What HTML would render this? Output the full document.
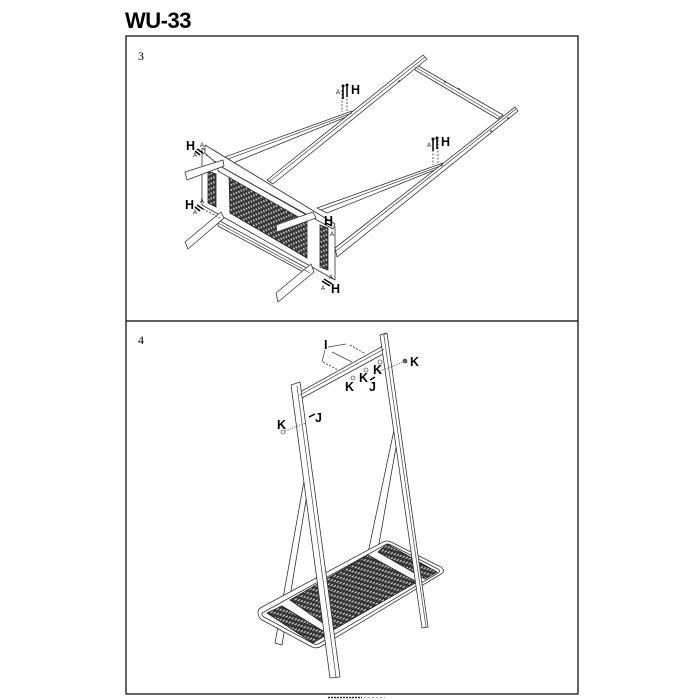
<!DOCTYPE html>
<html><head><meta charset="utf-8"><style>
html,body{margin:0;padding:0;background:#fff}
svg{display:block}
text{font-family:"Liberation Sans",sans-serif;font-weight:bold;fill:#000}
.n{font-family:"Liberation Serif",serif;font-weight:normal;font-size:12px}
.L{font-size:12.5px}
.a{font-size:6px;font-weight:normal}
.s polygon,.s path{fill:#fff;stroke:#333;stroke-width:.8;stroke-linejoin:round}
.l{stroke:#444;stroke-width:.7;fill:none}
.d{stroke:#333;stroke-width:.8;stroke-dasharray:2 1.5;fill:none}
.t{stroke:#000;stroke-width:1.5;fill:none}
.m{fill:url(#mesh);stroke:#222;stroke-width:.8}
.m2{fill:url(#mesh2);stroke:#222;stroke-width:.8}
</style></head><body>
<svg width="700" height="700" viewBox="0 0 700 700" xmlns="http://www.w3.org/2000/svg">
<defs>
<pattern id="mesh" width="5" height="5" patternUnits="userSpaceOnUse" patternTransform="skewY(30)">
<rect width="5" height="5" fill="#363636"/><rect x=".5" y=".5" width="1.7" height="1.7" fill="#ccc"/><rect x="3" y="3" width="1.7" height="1.7" fill="#ccc"/>
</pattern>
<pattern id="mesh2" width="6" height="5" patternUnits="userSpaceOnUse" patternTransform="skewY(-28)">
<rect width="6" height="5" fill="#333"/><rect x=".5" y=".8" width="2.4" height="1.4" fill="#d0d0d0"/><rect x="3.5" y="3.3" width="2.4" height="1.4" fill="#d0d0d0"/>
</pattern>
</defs>
<rect width="700" height="700" fill="#fff"/>
<text x="125" y="28" font-size="22" style="letter-spacing:-.5px">WU-33</text>
<rect x="126" y="36" width="452" height="658" fill="none" stroke="#000" stroke-width="1.2"/>
<line x1="126" y1="321" x2="578" y2="321" stroke="#000" stroke-width="1.2"/>
<text class="n" x="138" y="60">3</text>
<text class="n" x="138" y="344">4</text>

<!-- PANEL 3 -->
<g class="s">
<polygon points="225,157 352,111 356,113 233,163"/>
<polygon points="317,208 443,163 447,165 327,213"/>
<polygon points="415,64 503,115 498,119 415,70"/>
<polygon points="267,180 423,55 427,59 273,184"/>
<polygon points="335,248 515,107 518,111 337,257"/>
<polygon points="202,148 335,227 335,280 202,205"/>
</g>
<line class="l" x1="228" y1="159" x2="352" y2="113"/>
<line class="l" x1="321" y1="210" x2="443" y2="165"/>
<line class="l" x1="415" y1="67" x2="500" y2="117"/>
<line class="l" x1="270" y1="181" x2="425" y2="57"/>
<line class="l" x1="336" y1="251" x2="516" y2="109"/>
<circle cx="399" cy="81" r=".8"/><circle cx="491" cy="131" r=".8"/><circle cx="508" cy="118" r=".8"/><circle cx="445" cy="82" r=".8"/><circle cx="459" cy="89" r=".8"/>
<polygon class="m" points="208,171 216,174 216,207 208,203"/>
<polygon class="m" points="229,175 307,223 307,258 230,213"/>
<polygon class="m" points="320,225 328,228 328,270 320,267"/>
<g class="s">
<polygon points="205,145 335,224 333,229 218,165 205,153"/>
<polygon points="218,165 310,217 307,222 218,171"/>
<polygon points="218,220 312,271 309,275 218,226"/>
<polygon points="185,172 223,160 224,166 187,180"/>
<polygon points="185,242 221,212 224,218 188,249"/>
<polygon points="276,225 313,212 316,218 277,232"/>
<polygon points="276,293 311,264 314,272 278,302"/>
</g>
<line class="l" x1="212" y1="149" x2="325" y2="218"/>
<line class="l" x1="218" y1="223" x2="310" y2="273"/>
<line class="d" x1="342" y1="90" x2="342" y2="112"/><line class="d" x1="347" y1="88" x2="347" y2="112"/>
<line class="d" x1="433" y1="143" x2="433" y2="165"/><line class="d" x1="438" y1="140" x2="438" y2="165"/>
<line class="t" x1="343" y1="87" x2="343" y2="99"/><line class="t" x1="347" y1="85" x2="347" y2="97"/>
<line class="t" x1="433" y1="140" x2="433" y2="151"/><line class="t" x1="437" y1="138" x2="437" y2="149"/>
<circle cx="343" cy="86" r="1.5"/><circle cx="347" cy="85" r="1.5"/><circle cx="433" cy="139" r="1.5"/><circle cx="437" cy="138" r="1.5"/>
<line class="t" x1="197" y1="149" x2="203" y2="153"/><line class="t" x1="195" y1="151" x2="200" y2="155"/>
<line class="d" x1="203" y1="153" x2="216" y2="162"/>
<line class="t" x1="197" y1="205" x2="203" y2="209"/><line class="t" x1="195" y1="207" x2="200" y2="211"/>
<line class="d" x1="203" y1="209" x2="220" y2="218"/>
<line class="t" x1="326" y1="223" x2="332" y2="226"/>
<line class="t" x1="324" y1="279" x2="332" y2="284"/><line class="t" x1="322" y1="281" x2="330" y2="286"/>
<text class="L" x="186" y="150">H</text><text class="L" x="185" y="209">H</text>
<text class="L" x="324" y="225">H</text><text class="L" x="331" y="293">H</text>
<text class="L" x="351" y="94">H</text><text class="L" x="441" y="146">H</text>
<text class="a" x="336" y="94">A</text><text class="a" x="427" y="147">A</text>
<text class="a" x="200" y="147">A</text><text class="a" x="193" y="157">A</text>
<text class="a" x="200" y="203">A</text><text class="a" x="193" y="214">A</text>
<text class="a" x="330" y="236">A</text><text class="a" x="329" y="279">A</text><text class="a" x="321" y="290">A</text>

<!-- PANEL 4 -->
<g class="s">
<polygon points="306,470 311,470 282,645 275,643"/>
<polygon points="394,430 399,430 377,555 368,553"/>
<path d="M258 612Q258 609 262 607L383 542Q387 540 391 542L441 567Q446 571 441 574L322 646Q317 649 312 647L262 620Q258 617 258 612Z"/>
<path d="M262 613L385 545Q388 543 391 545L438 569Q441 571 438 573L320 643Q317 645 314 644L264 617Q261 615 262 613Z"/>
</g>
<polygon class="m2" points="290,600 368,555 417,582 333,630"/>
<polygon class="m2" points="267,613 282,606 328,634 313,643"/>
<polygon class="m2" points="378,552 387,544 437,572 425,579"/>
<g class="s">
<polygon points="300,392 383,346 385,353 302,398"/>
<polygon points="380,335 387,333 428,627 422,628"/>
<polygon points="291,385 300,382 340,677 330,678"/>
</g>
<line class="l" x1="300" y1="395" x2="384" y2="349"/>
<line class="l" x1="383" y1="336" x2="387" y2="333"/>
<line class="l" x1="297" y1="386" x2="336" y2="677"/>
<line class="l" x1="384" y1="336" x2="426" y2="627"/>
<path class="l" d="M328 347L346 344M325 350L322 362"/>
<line class="d" x1="350" y1="345" x2="364" y2="353"/>
<line class="l" x1="332" y1="352" x2="352" y2="362"/>
<line class="d" x1="323" y1="362" x2="338" y2="370"/>
<line class="d" x1="378" y1="372" x2="403" y2="362" style="stroke-dasharray:1 1.5"/>
<line class="d" x1="283" y1="432" x2="305" y2="423" style="stroke-dasharray:1 1.5"/>
<circle cx="405" cy="361" r="2" fill="#666" stroke="#222" stroke-width=".6"/>
<circle cx="283" cy="432" r="2" fill="#fff" stroke="#222" stroke-width=".6"/>
<circle cx="353" cy="378" r="2" fill="#fff" stroke="#222" stroke-width=".6"/>
<circle cx="366" cy="370" r="2" fill="#fff" stroke="#222" stroke-width=".6"/>
<circle cx="380" cy="362" r="2" fill="#fff" stroke="#222" stroke-width=".6"/>
<line class="t" x1="309" y1="417" x2="315" y2="414"/><line class="t" x1="370" y1="380" x2="375" y2="377"/>
<text class="L" x="324" y="349">I</text>
<text class="L" x="345" y="391">K</text><text class="L" x="359" y="382">K</text><text class="L" x="373" y="374">K</text>
<text class="L" x="410" y="366">K</text><text class="L" x="277" y="429">K</text>
<text class="L" x="369" y="391">J</text><text class="L" x="315" y="422">J</text>
<line x1="328" y1="697.5" x2="362" y2="697.5" stroke="#333" stroke-width="1.5" stroke-dasharray="2 1"/>
<line x1="364" y1="697.5" x2="385" y2="697.5" stroke="#aaa" stroke-width="1" stroke-dasharray="2 2"/>
</svg>
</body></html>
